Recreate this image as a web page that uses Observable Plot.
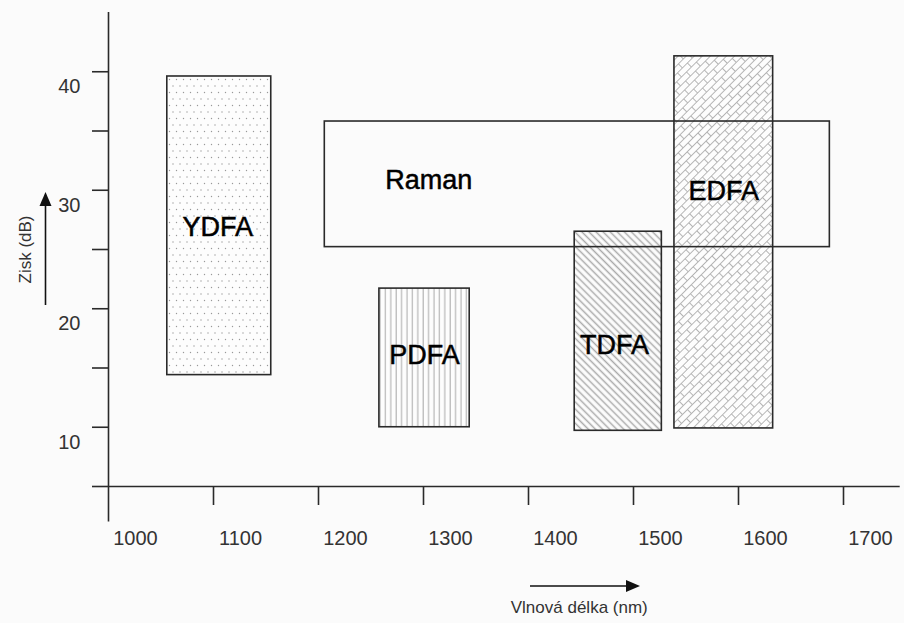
<!DOCTYPE html>
<html>
<head>
<meta charset="utf-8">
<script src="https://cdn.jsdelivr.net/npm/d3@7"></script>
<script src="https://cdn.jsdelivr.net/npm/@observablehq/plot@0.6"></script>
<style>
  html, body { margin: 0; padding: 0; background: #fbfbfb; }
  #chart svg { display: block; }
</style>
</head>
<body>
<div id="chart"></div>
<script>
// ---- data ----
const amplifiers = ["YDFA", "PDFA", "TDFA", "EDFA", "Raman"];
const wlStart    = [1056, 1258, 1444, 1539, 1206];   // nm
const wlEnd      = [1155, 1344, 1527, 1633, 1687];   // nm
const gainLow    = [14.4, 10.0, 9.7, 9.9, 25.2];     // dB
const gainHigh   = [39.6, 21.7, 26.5, 41.3, 35.8];   // dB
const labelWl    = [1104, 1301, 1482, 1586, 1305];   // label anchor (nm)
const labelGain  = [26.9, 16.1, 16.9, 29.9, 30.8];   // label anchor (dB)
const patterns   = ["pat-dots", "pat-vlines", "pat-diag", "pat-brick", null];

const xTickValues  = [1000, 1100, 1200, 1300, 1400, 1500, 1600, 1700];
const yTickValues  = [5, 10, 15, 20, 25, 30, 35, 40];
const yLabelValues = [10, 20, 30, 40];
const xTitle = "Vlnová délka (nm)";
const yTitle = "Zisk (dB)";

const ink = "#2a2a2a";
const font = "Liberation Sans, Arial, sans-serif";

// arrows next to the axis titles, placed relative to the frame
function axisArrows(index, scales, values, dims) {
  const {width, height, marginLeft, marginRight, marginTop, marginBottom} = dims;
  const fy0 = marginTop, fy1 = height - marginBottom;
  const g = d3.create("svg:g").attr("fill", "#111").attr("stroke", "#111");
  const ymid = (fy0 + fy1) / 2, xa = marginLeft - 62.5;
  g.append("line").attr("x1", xa).attr("x2", xa)
    .attr("y1", ymid + 56).attr("y2", ymid - 46).attr("stroke-width", 1.6);
  g.append("path").attr("stroke", "none")
    .attr("d", `M${xa},${ymid - 57} L${xa - 6},${ymid - 43} L${xa + 6},${ymid - 43} Z`);
  const ya = fy1 + 100, xs = marginLeft + 422, xe = marginLeft + 532;
  g.append("line").attr("x1", xs).attr("x2", xe - 11)
    .attr("y1", ya).attr("y2", ya).attr("stroke-width", 1.6);
  g.append("path").attr("stroke", "none")
    .attr("d", `M${xe},${ya} L${xe - 14},${ya - 6} L${xe - 14},${ya + 6} Z`);
  return g.node();
}

const idx = d3.range(amplifiers.length);
const boxMarks = idx.filter(i => patterns[i]).map(i =>
  Plot.rect([i], {
    x1: j => wlStart[j], x2: j => wlEnd[j],
    y1: j => gainLow[j], y2: j => gainHigh[j],
    fill: `url(#${patterns[i]})`, stroke: ink, strokeWidth: 1.6
  })
);
const ramanIdx = idx.filter(i => !patterns[i]);

const chart = Plot.plot({
  width: 904,
  height: 623,
  marginLeft: 108,
  marginRight: 8.5,
  marginTop: 12,
  marginBottom: 137,
  x: {domain: [1000, 1750]},
  y: {domain: [5, 45]},
  style: {fontFamily: font, background: "#fbfbfb", overflow: "visible"},
  marks: [
    ...boxMarks,
    Plot.rect(ramanIdx, {
      x1: j => wlStart[j], x2: j => wlEnd[j],
      y1: j => gainLow[j], y2: j => gainHigh[j],
      fill: "none", stroke: ink, strokeWidth: 1.6
    }),
    Plot.text(idx, {
      x: j => labelWl[j], y: j => labelGain[j], text: j => amplifiers[j],
      fontSize: 27, fill: "#000", stroke: "#000", strokeWidth: 0.5, fontFamily: font
    }),
    // axis lines
    Plot.ruleY([5], {x1: 1000, x2: 1754, stroke: ink, strokeWidth: 1.6}),
    Plot.ruleX([1000], {y1: 2, y2: 45, stroke: ink, strokeWidth: 1.6}),
    // ticks
    Plot.axisY({ticks: yTickValues, tickSize: 16, tickFormat: () => "", label: null,
      stroke: ink, strokeWidth: 1.6}),
    Plot.axisX({ticks: xTickValues.slice(1), tickSize: 19, tickFormat: () => "", label: null,
      stroke: ink, strokeWidth: 1.6}),
    // tick labels (offset from the ticks as in the reference)
    Plot.axisY({ticks: yLabelValues, tickSize: 0, tickPadding: 28, dy: 15, label: null,
      tickFormat: d => String(d), fontSize: 20, fill: "#333"}),
    Plot.axisX({ticks: xTickValues, tickSize: 0, tickPadding: 44, dx: 27, label: null,
      tickFormat: d => String(d), fontSize: 20, fill: "#333"}),
    // axis titles
    Plot.text([yTitle], {frameAnchor: "left", textAnchor: "middle", dx: -83, rotate: -90,
      fontSize: 17, fill: "#333", text: d => d}),
    Plot.text([xTitle], {frameAnchor: "bottom", textAnchor: "middle", dx: 77, dy: 126,
      fontSize: 17, fill: "#333", text: d => d}),
    axisArrows
  ]
});

// pattern definitions
const defs = d3.select(chart).insert("defs", ":first-child");
const pDots = defs.append("pattern").attr("id", "pat-dots")
  .attr("patternUnits", "userSpaceOnUse").attr("width", 7).attr("height", 13);
pDots.append("rect").attr("width", 7).attr("height", 13).attr("fill", "#fdfdfd");
pDots.append("circle").attr("cx", 1.5).attr("cy", 1.5).attr("r", 0.7).attr("fill", "#999");
pDots.append("circle").attr("cx", 5).attr("cy", 8).attr("r", 0.7).attr("fill", "#999");

const pV = defs.append("pattern").attr("id", "pat-vlines")
  .attr("patternUnits", "userSpaceOnUse").attr("width", 5.4).attr("height", 10);
pV.append("rect").attr("width", 5.4).attr("height", 10).attr("fill", "#fdfdfd");
pV.append("line").attr("x1", 2).attr("x2", 2).attr("y1", 0).attr("y2", 10)
  .attr("stroke", "#b0b0b0").attr("stroke-width", 1.1);

const pD = defs.append("pattern").attr("id", "pat-diag")
  .attr("patternUnits", "userSpaceOnUse").attr("width", 5).attr("height", 10)
  .attr("patternTransform", "rotate(-45)");
pD.append("rect").attr("width", 5).attr("height", 10).attr("fill", "#fdfdfd");
pD.append("line").attr("x1", 2.5).attr("x2", 2.5).attr("y1", 0).attr("y2", 10)
  .attr("stroke", "#aaa").attr("stroke-width", 1.5);

const pB = defs.append("pattern").attr("id", "pat-brick")
  .attr("patternUnits", "userSpaceOnUse").attr("width", 14).attr("height", 11.4)
  .attr("patternTransform", "rotate(-45)");
pB.append("rect").attr("width", 14).attr("height", 11.4).attr("fill", "#fdfdfd");
pB.append("path")
  .attr("d", "M0,0.5H14M0,6.2H14M0.5,0V6.2M7.5,6.2V11.4")
  .attr("stroke", "#b4b4b4").attr("stroke-width", 1).attr("fill", "none");

document.getElementById("chart").append(chart);
</script>
</body>
</html>
